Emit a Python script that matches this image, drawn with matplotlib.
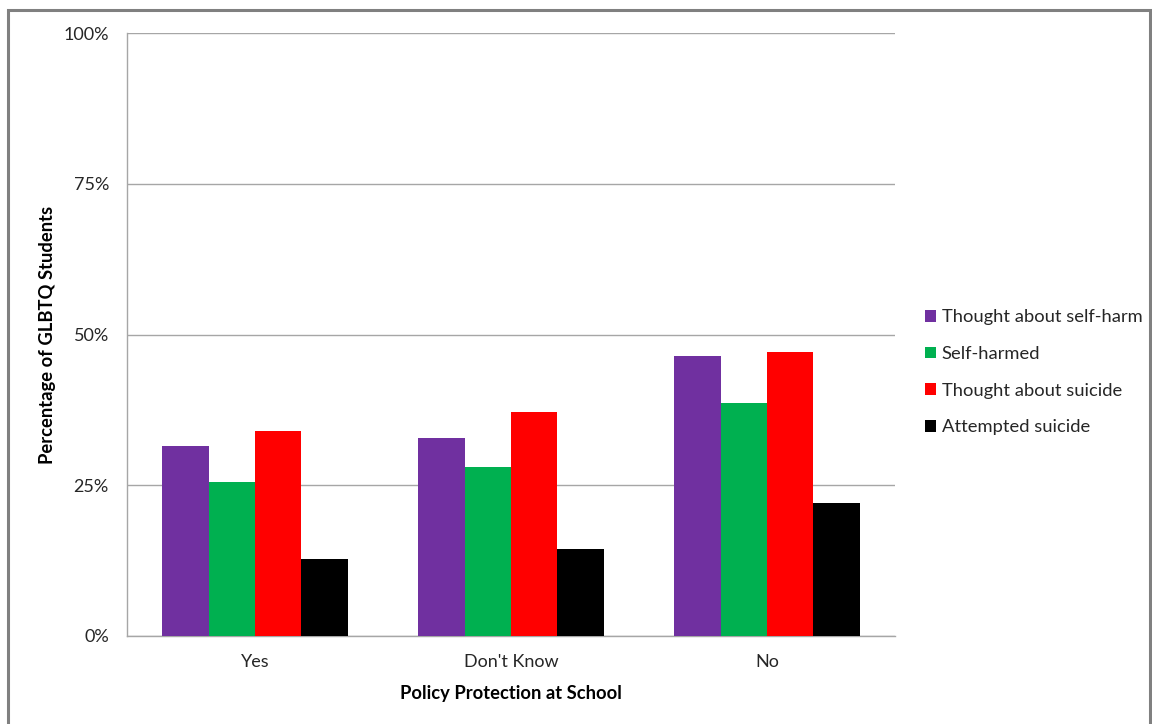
import matplotlib
matplotlib.use("Agg")
import matplotlib.pyplot as plt
import numpy as np
from matplotlib.patches import Rectangle
from matplotlib.ticker import FuncFormatter

categories = ["Yes", "Don't Know", "No"]
series_names = ["Thought about self-harm", "Self-harmed", "Thought about suicide", "Attempted suicide"]
thought_self_harm = [31.5, 32.8, 46.5]
self_harmed = [25.5, 28.0, 38.6]
thought_suicide = [34.0, 37.1, 47.1]
attempted_suicide = [12.7, 14.4, 22.1]
yticks = [0, 25, 50, 75, 100]

colors = ["#7030A0", "#00B050", "#FF0000", "#000000"]
values = [thought_self_harm, self_harmed, thought_suicide, attempted_suicide]

plt.rcParams['font.family'] = ['Lato', 'DejaVu Sans']

W, H = 1152, 724
fig = plt.figure(figsize=(W/100, H/100), dpi=100)
ax = fig.add_axes([127/W, 1-636/H, (895-127)/W, (636-33)/H])

x = np.arange(len(categories))
bw = 0.1816
for i, (vals, c, name) in enumerate(zip(values, colors, series_names)):
    ax.bar(x + (i-1.5)*bw, vals, width=bw, color=c, label=name, zorder=3, linewidth=0)

ax.set_xlim(-0.5, len(categories)-0.5)
ax.set_ylim(0, 100)
ax.set_yticks(yticks)
ax.yaxis.set_major_formatter(FuncFormatter(lambda v, p: f"{int(v)}%"))
ax.set_xticks(x)
ax.set_xticklabels(categories)
ax.grid(axis='y', color='#A6A6A6', linewidth=1, zorder=0)
for s in ['top', 'right']:
    ax.spines[s].set_visible(False)
for s in ['left', 'bottom']:
    ax.spines[s].set_color('#A6A6A6')
    ax.spines[s].set_linewidth(1)
ax.tick_params(axis='both', length=0, labelsize=13, colors='#262626')
ax.tick_params(axis='x', pad=13)
ax.tick_params(axis='y', pad=13)

ax.set_xlabel("Policy Protection at School", fontsize=13.2, fontweight='bold', labelpad=11, color='#000000')
ax.set_ylabel("Percentage of GLBTQ Students", fontsize=13.2, fontweight='bold', labelpad=5, color='#000000')

leg = fig.legend(loc='upper left', bbox_to_anchor=(918/W, 1-302/H), frameon=False,
                 fontsize=13.2, handlelength=0.6, handleheight=0.6, handletextpad=0.3,
                 labelspacing=1.13, borderaxespad=0)
for t in leg.get_texts():
    t.set_color('#262626')

fig.patches.append(Rectangle((8/W, -0.05), (1150-8)/W, (1+0.05) - 10/H, transform=fig.transFigure,
                             fill=False, edgecolor='#808080', linewidth=2.2))

fig.savefig("out.png", dpi=100)
